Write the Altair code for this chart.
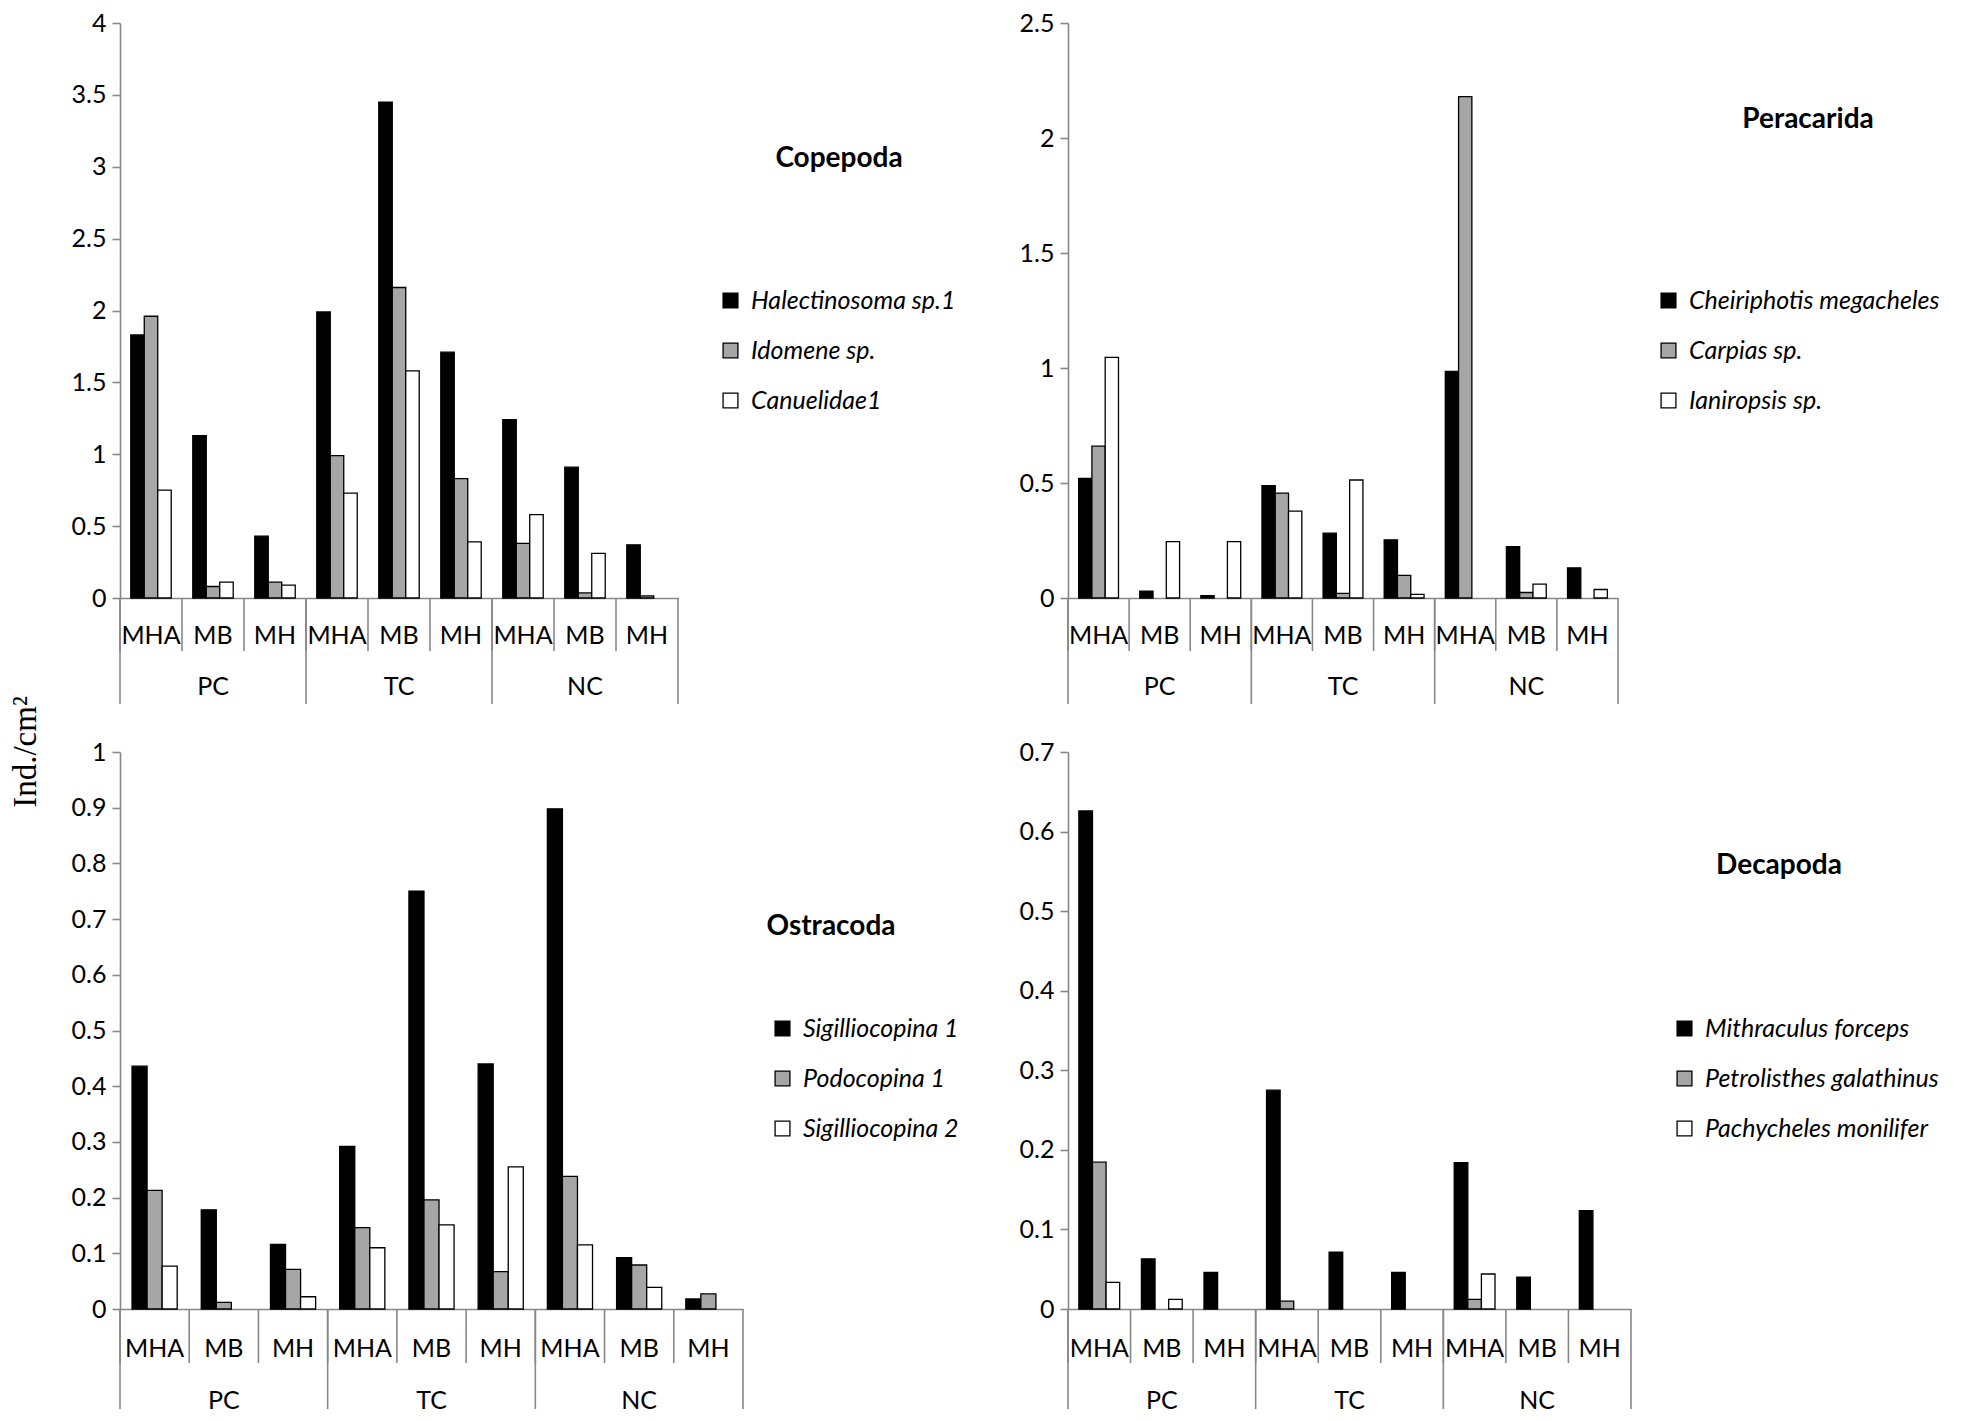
import altair as alt
import pandas as pd

# ---------------- data ----------------
sites = ["PC", "TC", "NC"]
zones = ["MHA", "MB", "MH"]
cats = [f"{s} {z}" for s in sites for z in zones]

# Copepoda
cop_species = ["Halectinosoma sp.1", "Idomene sp.", "Canuelidae1"]
cop_s1 = [1.83, 1.13, 0.43, 1.99, 3.45, 1.71, 1.24, 0.91, 0.37]
cop_s2 = [1.96, 0.08, 0.11, 0.99, 2.16, 0.83, 0.38, 0.035, 0.015]
cop_s3 = [0.75, 0.11, 0.09, 0.73, 1.58, 0.39, 0.58, 0.31, 0.0]
cop_ticks = [0, 0.5, 1, 1.5, 2, 2.5, 3, 3.5, 4]

# Peracarida
per_species = ["Cheiriphotis megacheles", "Carpias sp.", "Ianiropsis sp."]
per_s1 = [0.52, 0.03, 0.01, 0.488, 0.282, 0.253, 0.985, 0.223, 0.131]
per_s2 = [0.66, 0.0, 0.0, 0.456, 0.02, 0.098, 2.18, 0.024, 0.0]
per_s3 = [1.046, 0.245, 0.245, 0.378, 0.513, 0.016, 0.0, 0.06, 0.037]
per_ticks = [0, 0.5, 1, 1.5, 2, 2.5]

# Ostracoda
ost_species = ["Sigilliocopina 1", "Podocopina 1", "Sigilliocopina 2"]
ost_s1 = [0.436, 0.178, 0.116, 0.292, 0.75, 0.44, 0.898, 0.092, 0.018]
ost_s2 = [0.213, 0.012, 0.071, 0.146, 0.196, 0.067, 0.238, 0.079, 0.027]
ost_s3 = [0.077, 0.0, 0.022, 0.11, 0.151, 0.255, 0.115, 0.039, 0.0]
ost_ticks = [0, 0.1, 0.2, 0.3, 0.4, 0.5, 0.6, 0.7, 0.8, 0.9, 1]

# Decapoda
dec_species = ["Mithraculus forceps", "Petrolisthes galathinus", "Pachycheles monilifer"]
dec_s1 = [0.626, 0.063, 0.046, 0.275, 0.0716, 0.046, 0.184, 0.04, 0.1235]
dec_s2 = [0.1845, 0.0, 0.0, 0.01, 0.0, 0.0, 0.012, 0.0, 0.0]
dec_s3 = [0.0335, 0.012, 0.0, 0.0, 0.0, 0.0, 0.044, 0.0, 0.0]
dec_ticks = [0, 0.1, 0.2, 0.3, 0.4, 0.5, 0.6, 0.7]

FILLS = ["#000000", "#a6a6a6", "#ffffff"]
AXIS_GRAY = "#878787"
FONT = "Lato"
FS = 25
LFS = 25


def long_df(species, series):
    rows = []
    for sp, vals in zip(species, series):
        for c, v in zip(cats, vals):
            rows.append({"cat": c, "species": sp, "value": v})
    return pd.DataFrame(rows)


def panel(title, species, series, ticks, width, height, title_xy, legend_xy,
          sub_len, grp_len, sub_lab_pad, grp_lab_y, ylab=False):
    df = long_df(species, series)
    base_x_scale = alt.Scale(domain=cats, paddingInner=0, paddingOuter=0)

    bars = alt.Chart(df).transform_filter("datum.value > 0").mark_bar(
        stroke="black", strokeWidth=1.3
    ).encode(
        x=alt.X("cat:N", scale=base_x_scale, title=None,
                axis=alt.Axis(labelExpr="split(datum.label, ' ')[1]", ticks=False,
                              labelAngle=0, labelFontSize=FS, labelFont=FONT,
                              labelColor="black", labelPadding=sub_lab_pad,
                              domainColor=AXIS_GRAY, domainWidth=1.6)),
        xOffset=alt.XOffset("species:N", sort=species,
                            scale=alt.Scale(domain=species, paddingOuter=0.8, paddingInner=0)),
        y=alt.Y("value:Q", title=None,
                scale=alt.Scale(domain=[0, ticks[-1]], nice=False, zero=True),
                axis=alt.Axis(values=ticks, format="~g", grid=False, tickSize=8,
                              tickColor=AXIS_GRAY, tickWidth=1.6, domainColor=AXIS_GRAY,
                              domainWidth=1.6, labelFontSize=FS, labelFont=FONT,
                              labelColor="black", labelPadding=6)),
        color=alt.Color("species:N", sort=species,
                        scale=alt.Scale(domain=species, range=FILLS),
                        legend=alt.Legend(title=None, orient="none",
                                          legendX=legend_xy[0], legendY=legend_xy[1],
                                          symbolType="square", symbolSize=220,
                                          symbolStrokeColor="black", symbolStrokeWidth=1.3,
                                          labelFontSize=LFS, labelFont=FONT,
                                          labelFontStyle="italic", labelColor="black",
                                          labelOffset=8, rowPadding=24,
                                          labelLimit=400)),
    )

    cat_df = pd.DataFrame({"cat": cats})
    sub_rules = alt.Chart(cat_df).mark_rule(color=AXIS_GRAY, strokeWidth=1.6).encode(
        x=alt.X("cat:N", bandPosition=0, title=None),
        y=alt.value(height), y2=alt.value(height + sub_len),
    )
    end_df = pd.DataFrame({"cat": [cats[-1]]})
    end_rule = alt.Chart(end_df).mark_rule(color=AXIS_GRAY, strokeWidth=1.6).encode(
        x=alt.X("cat:N", bandPosition=1, title=None),
        y=alt.value(height), y2=alt.value(height + grp_len),
    )
    grp_df = pd.DataFrame({"cat": [f"{s} MHA" for s in sites]})
    grp_rules = alt.Chart(grp_df).mark_rule(color=AXIS_GRAY, strokeWidth=1.6).encode(
        x=alt.X("cat:N", bandPosition=0, title=None),
        y=alt.value(height), y2=alt.value(height + grp_len),
    )
    lab_df = pd.DataFrame({"cat": [f"{s} MB" for s in sites], "site": sites})
    grp_labels = alt.Chart(lab_df).mark_text(
        fontSize=FS, font=FONT, color="black", baseline="middle"
    ).encode(
        x=alt.X("cat:N", title=None),
        y=alt.value(height + grp_lab_y),
        text="site:N",
    )
    t_df = pd.DataFrame({"t": [title]})
    title_txt = alt.Chart(t_df).mark_text(
        fontSize=28, font=FONT, fontWeight="bold", color="black",
        align="center", baseline="middle"
    ).encode(x=alt.value(title_xy[0]), y=alt.value(title_xy[1]), text="t:N")

    layers = [bars, sub_rules, grp_rules, end_rule, grp_labels, title_txt]
    if ylab:
        y_df = pd.DataFrame({"t": ["Ind./cm²"]})
        layers.append(
            alt.Chart(y_df).mark_text(
                fontSize=33, font="Liberation Serif", color="black", angle=270,
                align="center", baseline="middle"
            ).encode(x=alt.value(-94), y=alt.value(729), text="t:N")
        )
    return alt.layer(*layers).properties(width=width, height=height)


tl = panel("Copepoda", cop_species, [cop_s1, cop_s2, cop_s3], cop_ticks,
           558, 575, (719, 136), (598, 265), 53, 106, 25, 89, ylab=True)
tr = panel("Peracarida", per_species, [per_s1, per_s2, per_s3], per_ticks,
           550, 575, (740, 97), (588, 265), 53, 106, 25, 89)
bl = panel("Ostracoda", ost_species, [ost_s1, ost_s2, ost_s3], ost_ticks,
           623, 557, (711, 175), (650, 264), 54, 100, 27, 92)
br = panel("Decapoda", dec_species, [dec_s1, dec_s2, dec_s3], dec_ticks,
           563, 557, (711, 114), (604, 264), 54, 100, 27, 92)

chart = alt.concat(
    tl, tr, bl, br, columns=2, spacing={"row": 154, "column": 325}, bounds="flush"
).resolve_scale(
    color="independent", x="independent", y="independent", xOffset="independent"
).resolve_legend(color="independent").configure_view(
    stroke=None
).properties(padding={"top": 3, "left": 2, "right": 0, "bottom": 0}, background="white")

chart.save("out.html", embed_options={"renderer": "svg", "actions": False})
